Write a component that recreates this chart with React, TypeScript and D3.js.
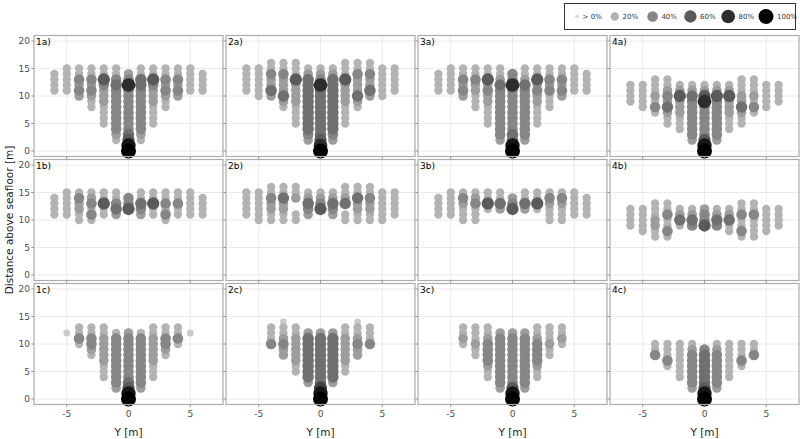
import React from 'react';
import * as d3 from 'd3';

// horizontal offsets of the sample columns
const offsetsAB = [-6, -5, -4, -3, -2, -1, 0, 1, 2, 3, 4, 5, 6];
const offsetsC = [-5, -4, -3, -2, -1, 0, 1, 2, 3, 4, 5];

// column code: "<lowest height>:<one char per metre upwards>"
// digit = tens of percent, X = 100%, "." = nothing, spaces ignored
const p1a = ['11:2222', '11:22222', '10:343422', '8:22343422', '5:2222 333 4 6 22', '2:23 44444444 5 4 22',
  '0:X965 44444444 843', '2:23 44444444 5 5 22', '5:2222 333 4 6 22', '8:22343422', '10:343422', '11:22222', '11:2222'];
const p2a = ['11:22222', '10:222222', '10:3533422', '8:235333422', '5:2222 3333 6 222', '2:34 5555555555 32',
  '0:X86 555555555 8432', '2:34 5555555555 32', '5:2222 3333 6 222', '8:235333422', '10:3533422', '10:222222', '11:22222'];
const p3a = ['11:2222', '11:22222', '10:343422', '8:222 33 4 22', '5:2222 33 4 3 6 22', '2:3 444444444 5 3 22',
  '0:X955 44444444 8 44', '2:3 444444444 5 3 22', '5:2222 33 4 3 6 22', '8:222 4 3 4 22', '10:343422', '11:22222', '11:2222'];
const p4a = ['9:2222', '8:22222', '7:2423222', '5:22 3 5 3 4 3 22', '4:222 333 6 3 2', '2:3 4444444 5 3 2',
  '0:X96 444444 8 6 3 2', '2:3 4444444 6 3 2', '4:222 333 6 3 2', '5:22 3 5 3 3 2 22', '7:2423222', '8:22222', '9:2222'];

const p1b = ['11:2222', '11:22222', '10:22 33 4 2', '10:2 4 2 4 3 2', '11:22 6 22', '11:3 5 4 22',
  '12:6 4 4', '11:3 4 5 22', '11:22 6 22', '10:2 4 2 4 2 2', '11:22 4 22', '11:22222', '11:2222'];
const p2b = ['11:22222', '10:222222', '10:22 33 4 22', '10:22 33 5 22', '10:22 .. 3 22', '11:3 4 5 3 2',
  '12:6 4 3 2', '11:3 4 5 3 2', '10:22 . 5 3 22', '10:22 33 5 22', '10:22 33 4 22', '10:222222', '11:22222'];
const p3b = ['11:2222', '11:22222', '10:222 3 4 2', '10:222 4 3 2', '12:2 6 22', '12:3 5 22',
  '12:6 4 3', '12:3 5 22', '12:2 6 22', '10:222 3 4 2', '10:222 3 4 2', '11:22222', '11:2222'];
const p4b = ['9:2222', '8:22222', '7:22 3 3 2 22', '7:2 4 2 2 4 2 2', '9:2 5 3 2', '9:4 5 3 2',
  '9:6 4 4 3', '9:4 5 3 2', '8:2 2 5 3 2', '7:2 4 2 2 4 2 2', '7:2 2 2 2 4 2 2', '8:22222', '9:2222'];

const p1c = ['12:1', '10:2 4 2 2', '8:2 3 4 4 2 2', '4:222 33333 22', '2:3 444444444 2',
  '0:X965 44444444 3', '2:3 444444444 2', '4:222 33333 22', '8:2 3 4 4 2 2', '10:2 4 2 2', '12:1'];
const p2c = ['', '10:4 2 2 2', '8:3 3 4 3 2 2 1', '5:2 2 3 3 3 3 3 2 2', '3:3 55555555 3',
  '0:X97 555555555 3', '3:3 55555555 3', '5:2 2 3 3 3 3 3 2 2', '8:3 3 4 3 2 2 1', '10:4 2 2 2', ''];
const p3c = ['', '10:2 3 2 2', '8:2 2 3 2 2 2', '4:2 2 3 4 4 4 4 3 2 2', '2:3 444444444 3',
  '0:X96 444444444 3', '2:3 444444444 3', '4:2 2 3 4 4 4 4 3 2 2', '8:2 2 3 2 2 2', '10:2 3 2 2', ''];
const p4c = ['', '8:4 2 2', '6:2 4 2 2 2', '4:2222222', '2:3 444444 3 2',
  '0:X96 555555 4', '2:3 444444 3 2', '4:2222222', '6:2 4 2 2 2', '8:4 2 2', ''];

const rowsData = [
  [p1a, p2a, p3a, p4a],
  [p1b, p2b, p3b, p4b],
  [p1c, p2c, p3c, p4c],
];
const rowNames = ['a', 'b', 'c'];
const xTicks = [-5, 0, 5];
const yTicks = [0, 5, 10, 15, 20];
const legendValues = [1, 20, 40, 60, 80, 100];
const legendLabels = ['> 0%', '20%', '40%', '60%', '80%', '100%'];

type Pt = { y: number; z: number; p: number };

function decode(code: string, y: number): Pt[] {
  if (!code) return [];
  const [start, chars] = code.split(':');
  const z0 = +start;
  const out: Pt[] = [];
  chars.replace(/ /g, '').split('').forEach((ch, i) => {
    if (ch === '.') return;
    out.push({ y, z: z0 + i, p: ch === 'X' ? 100 : +ch * 10 });
  });
  return out;
}

const W = 800;
const H = 439;
const left0 = 34;
const panelW = 189;
const top0 = 35.5;
const panelH = 121;
const gap = 3;
const font = 'DejaVu Sans, sans-serif';

const color = d3.scaleLinear<string>().domain([0, 100]).range(['#e0e0e0', '#000000']);
const size = d3.scaleSqrt().domain([0, 100]).range([1.5, 7.5]);

function Panel({ col, row }: { col: number; row: number }) {
  const left = left0 + col * (panelW + gap);
  const top = top0 + row * (panelH + gap);
  const x = d3.scaleLinear().domain([-7.65, 7.65]).range([left, left + panelW]);
  const y = d3.scaleLinear().domain([-1, 21]).range([top + panelH, top]);
  const offsets = row === 2 ? offsetsC : offsetsAB;
  const pts = rowsData[row][col]
    .flatMap((code, i) => decode(code, offsets[i]))
    .sort((a, b) => a.p - b.p);
  return (
    <g>
      <rect x={left} y={top} width={panelW} height={panelH} fill="#fff" />
      {xTicks.map(t => (
        <line key={'gx' + t} x1={x(t)} x2={x(t)} y1={top} y2={top + panelH} stroke="#e4e4e4" strokeWidth={0.8} />
      ))}
      {yTicks.map(t => (
        <line key={'gy' + t} x1={left} x2={left + panelW} y1={y(t)} y2={y(t)} stroke="#e4e4e4" strokeWidth={0.8} />
      ))}
      {pts.map((d, i) => (
        <circle key={i} cx={x(d.y)} cy={y(d.z)} r={size(d.p)} fill={color(d.p)} />
      ))}
      <rect x={left} y={top} width={panelW} height={panelH} fill="none" stroke="#acacac" strokeWidth={1.2} />
      {xTicks.map(t => (
        <line key={'tx' + t} x1={x(t)} x2={x(t)} y1={top + panelH} y2={top + panelH + 2.7} stroke="#8c8c8c" strokeWidth={0.9} />
      ))}
      {yTicks.map(t => (
        <line key={'ty' + t} x1={left - 2.7} x2={left} y1={y(t)} y2={y(t)} stroke="#8c8c8c" strokeWidth={0.9} />
      ))}
      <text x={left + 2} y={top + 9.5} fontSize={9} fontFamily={font} fill="#000">
        {`${col + 1}${rowNames[row]})`}
      </text>
      {col === 0 &&
        yTicks.map(t => (
          <text key={'ly' + t} x={left - 4} y={y(t)} dy="0.35em" textAnchor="end" fontSize={9} fontFamily={font} fill="#4d4d4d">
            {t}
          </text>
        ))}
      {row === 2 &&
        xTicks.map(t => (
          <text key={'lx' + t} x={x(t)} y={top + panelH + 12.5} textAnchor="middle" fontSize={9} fontFamily={font} fill="#4d4d4d">
            {t}
          </text>
        ))}
      {row === 2 && (
        <text x={left + panelW / 2} y={435.5} textAnchor="middle" fontSize={10.5} fontFamily={font} fill="#1a1a1a">
          Y [m]
        </text>
      )}
    </g>
  );
}

function Legend() {
  const lx = d3.scalePoint<number>().domain(legendValues).range([577, 766]);
  return (
    <g>
      <rect x={564.5} y={3.5} width={231} height={26} fill="#fff" stroke="#333" strokeWidth={1} />
      {legendValues.map((v, i) => (
        <g key={v}>
          <circle cx={lx(v)} cy={16.5} r={size(v)} fill={color(v)} />
          <text x={(lx(v) as number) + size(v) + 3.5} y={16.5} dy="0.35em" fontSize={7} fontFamily={font} fill="#333">
            {legendLabels[i]}
          </text>
        </g>
      ))}
    </g>
  );
}

export default function App() {
  return (
    <svg width={W} height={H} style={{ position: 'absolute', left: 0, top: 0, background: '#fff' }}>
      <rect width={W} height={H} fill="#fff" />
      {[0, 1, 2].map(row => [0, 1, 2, 3].map(col => <Panel key={`${row}-${col}`} col={col} row={row} />))}
      <text
        transform={`translate(9,${top0 + (3 * panelH + 2 * gap) / 2}) rotate(-90)`}
        textAnchor="middle"
        dy="0.35em"
        fontSize={10.5}
        fontFamily={font}
        fill="#1a1a1a"
      >
        Distance above seafloor [m]
      </text>
      <Legend />
    </svg>
  );
}
